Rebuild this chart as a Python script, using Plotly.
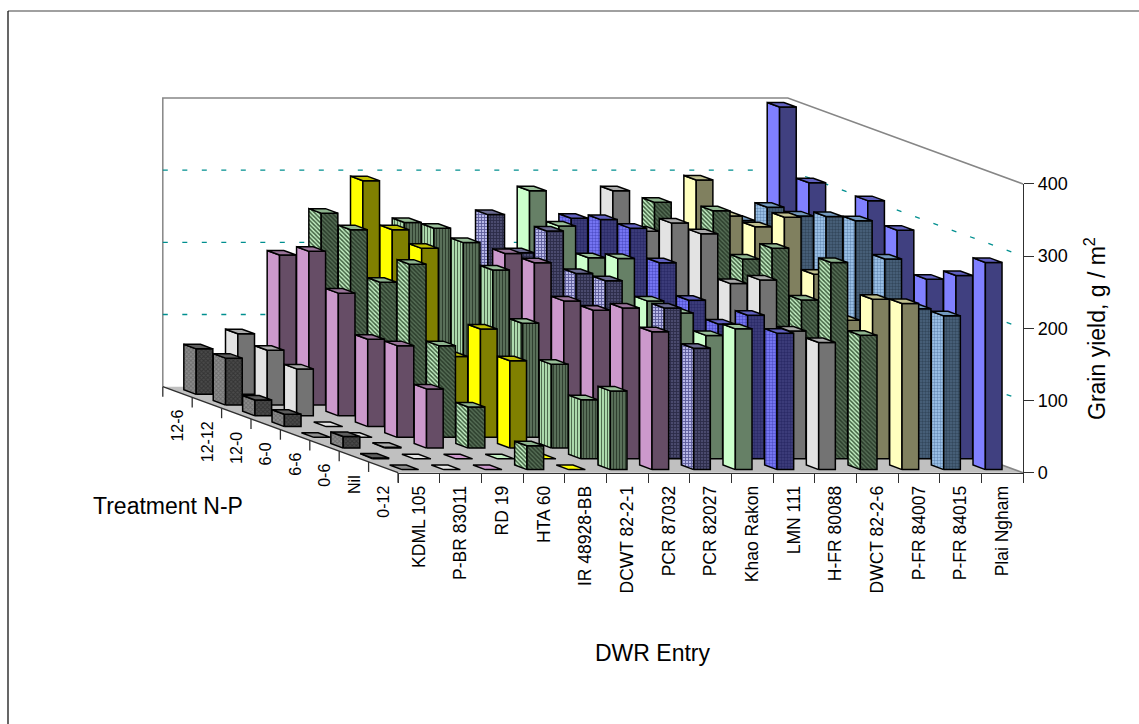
import plotly.graph_objects as go

# ---- data -----------------------------------------------------------------
entries = ["KDML 105", "P-BR 83011", "RD 19", "HTA 60", "IR 48928-BB", "DCWT 82-2-1",
           "PCR 87032", "PCR 82027", "Khao Rakon", "LMN 111", "H-FR 80088",
           "DWCT 82-2-6", "P-FR 84007", "P-FR 84015", "Plai Ngham"]
# front row first
treatments = ["0-12", "Nil", "0-6", "6-6", "6-0", "12-0", "12-12", "12-6"]

kdml_105    = [0, 1, 16, 0, 17, 22, 65, 63]
p_br_83011  = [0, 0, 1, 0, 0, 65, 76, 84]
rd_19       = [0, 0, 82, 127, 121, 170, 213, 193]
hta_60      = [33, 0, 57, 127, 225, 185, 243, 251]
ir_48928_bb = [0, 0, 121, 150, 97, 232, 243, 296]
dcwt_82_2_1 = [109, 82, 116, 158, 217, 240, 245, 238]
pcr_87032   = [191, 209, 191, 189, 227, 225, 150, 120]
pcr_82027   = [168, 209, 140, 217, 212, 256, 211, 249]
khao_rakon  = [195, 171, 187, 189, 233, 219, 248, 282]
lmn_111     = [189, 199, 172, 190, 227, 260, 257, 244]
h_fr_80088  = [176, 177, 233, 213, 267, 267, 241, 282]
dwct_82_2_6 = [186, 272, 205, 262, 232, 284, 170, 266]
p_fr_84007  = [230, 221, 177, 226, 290, 262, 262, 297]
p_fr_84015  = [213, 208, 262, 300, 291, 277, 274, 241]
plai_ngham  = [287, 254, 234, 287, 313, 250, 308, 398]

yields = [kdml_105, p_br_83011, rd_19, hta_60, ir_48928_bb, dcwt_82_2_1, pcr_87032,
          pcr_82027, khao_rakon, lmn_111, h_fr_80088, dwct_82_2_6, p_fr_84007,
          p_fr_84015, plai_ngham]

y_ticks = [0, 100, 200, 300, 400]

# ---- styles: left face, front face, top face, pattern, left ink, front ink
styles = [
    ("#8c8c8c", "#4a4a4a", "#5e5e5e", "x", "#6e6e6e", "#333333"),
    ("#e3e3e3", "#737373", "#aaaaaa", "", "", ""),
    ("#cc99cc", "#664d66", "#997399", "", "", ""),
    ("#c4f0c4", "#566e56", "#8fb58f", "\\", "#3f5f3f", "#2b3d2b"),
    ("#ffff00", "#808000", "#bfbf00", "", "", ""),
    ("#ccffcc", "#667f66", "#99bf99", "|", "#4f6b4f", "#2f3f2f"),
    ("#cc99cc", "#664d66", "#997399", "", "", ""),
    ("#b8b8e8", "#4a4a6e", "#6a6a90", "+", "#5c5c99", "#2c2c48"),
    ("#ccffcc", "#668066", "#99bf99", "", "", ""),
    ("#8080ff", "#404080", "#6060bf", ".", "#5050c8", "#2a2a66"),
    ("#e3e3e3", "#737373", "#aaaaaa", "", "", ""),
    ("#c4f0c4", "#566e56", "#8fb58f", "\\", "#3f5f3f", "#2b3d2b"),
    ("#ffffbf", "#80805f", "#bfbf8f", "", "", ""),
    ("#a6cdf2", "#4c6680", "#7399bf", ".", "#6a8fb8", "#33475c"),
    ("#8080ff", "#404080", "#6060bf", "", "", ""),
]

# ---- oblique projection of the 3-D box ------------------------------------
W, H = 1139, 724
X0, Y0 = 398.0, 472.7     # front-left floor corner, pixels
PX_X = 41.67              # pixels per entry cell
PX_Y = 0.7218             # pixels per g/m2
SHEAR_X = 29.4 / PX_X     # one treatment row, in entry units
SHEAR_Y = 10.75 / PX_Y    # one treatment row, in g/m2
N_ROWS = len(treatments)
N_COLS = len(entries)
DEPTH_FRAC = (0.29, 0.71)
WIDTH_FRAC = (0.30, 0.70)


def pt(col, row, v):
    return col - row * SHEAR_X, v + row * SHEAR_Y


def poly(points):
    xs = [p[0] for p in points] + [points[0][0]]
    ys = [p[1] for p in points] + [points[0][1]]
    return xs, ys


fig = go.Figure()

# floor
fx, fy = poly([pt(0, 0, 0), pt(N_COLS, 0, 0), pt(N_COLS, N_ROWS, 0), pt(0, N_ROWS, 0)])
fig.add_trace(go.Scatter(x=fx, y=fy, mode="lines", fill="toself", fillcolor="#c0c0c0",
                         line=dict(color="#c0c0c0", width=0), hoverinfo="skip"))

# walls
wx, wy = zip(pt(0, N_ROWS, 0), pt(0, N_ROWS, 400), pt(N_COLS, N_ROWS, 400), pt(N_COLS, 0, 400))
fig.add_trace(go.Scatter(x=list(wx), y=list(wy), mode="lines",
                         line=dict(color="#868686", width=1.5), hoverinfo="skip"))
ex, ey = zip(pt(N_COLS, N_ROWS, 0), pt(N_COLS, 0, 0))
fig.add_trace(go.Scatter(x=list(ex), y=list(ey), mode="lines",
                         line=dict(color="#868686", width=1.5), hoverinfo="skip"))

# gridlines on back and right walls
for level in y_ticks[1:-1]:
    gx, gy = zip(pt(0, N_ROWS, level), pt(N_COLS, N_ROWS, level), pt(N_COLS, 0, level))
    fig.add_trace(go.Scatter(x=list(gx), y=list(gy), mode="lines",
                             line=dict(color="#008f8f", width=1.3, dash="5px,14.5px"),
                             hoverinfo="skip"))


def face(points, color, shape="", ink=""):
    xs, ys = poly(points)
    kw = dict(fillcolor=color)
    if shape:
        kw["fillpattern"] = dict(shape=shape, bgcolor=color, fgcolor=ink, size=3, solidity=0.5,
                                 fillmode="replace")
    fig.add_trace(go.Scatter(x=xs, y=ys, mode="lines", fill="toself",
                             line=dict(color="#000000", width=1.5), hoverinfo="skip", **kw))


# bars, back row first, left to right in each row
for r in range(N_ROWS - 1, -1, -1):
    for c in range(N_COLS):
        v = yields[c][r]
        left, front, top, shape, ink_l, ink_f = styles[c]
        x1, x2 = c + WIDTH_FRAC[0], c + WIDTH_FRAC[1]
        d1, d2 = r + DEPTH_FRAC[0], r + DEPTH_FRAC[1]
        if v > 0:
            face([pt(x1, d1, 0), pt(x1, d2, 0), pt(x1, d2, v), pt(x1, d1, v)], left, shape, ink_l)
            face([pt(x1, d1, 0), pt(x2, d1, 0), pt(x2, d1, v), pt(x1, d1, v)], front, shape, ink_f)
        face([pt(x1, d1, v), pt(x2, d1, v), pt(x2, d2, v), pt(x1, d2, v)],
             top if v > 0 else left)

# depth axis: line and ticks
ax_x, ax_y = [], []
for r in range(N_ROWS + 1):
    a = pt(0, r, 0)
    ax_x += [a[0], a[0], None]
    ax_y += [a[1], a[1] - 10 / PX_Y, None]
a, b = pt(0, 0, 0), pt(0, N_ROWS, 0)
ax_x += [a[0], b[0]]
ax_y += [a[1], b[1]]
fig.add_trace(go.Scatter(x=ax_x, y=ax_y, mode="lines", line=dict(color="#303030", width=1.3),
                         hoverinfo="skip"))

# holder trace for the visible front axes
fig.add_trace(go.Scatter(x=entries, y=[0] * N_COLS, xaxis="x2", yaxis="y2", mode="lines",
                         line=dict(width=0), hoverinfo="skip"))

annotations = []
for r, name in enumerate(treatments):
    a = pt(0, r + 0.5, 0)
    annotations.append(dict(x=a[0], y=a[1], xref="x", yref="y", text=name, showarrow=False,
                            textangle=-90, xanchor="center", yanchor="top", yshift=-16,
                            font=dict(size=16)))
annotations += [
    dict(x=168 / W, y=1 - 506 / H, xref="paper", yref="paper", text="Treatment N-P",
         showarrow=False, xanchor="center", yanchor="middle", font=dict(size=23)),
    dict(x=653 / W, y=1 - 653 / H, xref="paper", yref="paper", text="DWR Entry",
         showarrow=False, xanchor="center", yanchor="middle", font=dict(size=23)),
    dict(x=1095 / W, y=1 - 329 / H, xref="paper", yref="paper", text="Grain yield, g / m<sup>2</sup>",
         showarrow=False, xanchor="center", yanchor="middle", textangle=-90, font=dict(size=23)),
]

fig.update_layout(
    width=W, height=H, autosize=False, showlegend=False,
    margin=dict(l=0, r=0, t=0, b=0, pad=0, autoexpand=False),
    paper_bgcolor="#ffffff", plot_bgcolor="rgba(0,0,0,0)",
    font=dict(family="Liberation Sans, Arial, sans-serif", color="#000000"),
    xaxis=dict(visible=False, domain=[0, 1], range=[-X0 / PX_X, (W - X0) / PX_X]),
    yaxis=dict(visible=False, domain=[0, 1], range=[-(H - Y0) / PX_Y, Y0 / PX_Y]),
    xaxis2=dict(domain=[X0 / W, (X0 + N_COLS * PX_X) / W], anchor="y2", type="category",
                categoryorder="array", categoryarray=entries, tickson="boundaries",
                ticks="outside", ticklen=9, tickwidth=1.3, tickcolor="#303030",
                showline=True, linecolor="#303030", linewidth=1.3, showgrid=False,
                tickangle=-90, tickfont=dict(size=17.5), range=[-0.5, N_COLS - 0.5],
                ticklabelstandoff=5, zeroline=False, automargin=False),
    yaxis2=dict(domain=[(H - Y0) / H, (H - Y0 + 400 * PX_Y) / H], anchor="x2", side="right",
                range=[0, 400], tickvals=y_ticks, ticks="outside", ticklen=10, tickwidth=1.3,
                tickcolor="#303030", showline=True, linecolor="#303030", linewidth=1.3,
                showgrid=False, zeroline=False, tickfont=dict(size=18), automargin=False),
    annotations=annotations,
    shapes=[
        dict(type="line", xref="paper", yref="paper", x0=8 / W, x1=1,
             y0=1 - 11 / H, y1=1 - 11 / H, line=dict(color="#808080", width=1.5), layer="below"),
        dict(type="line", xref="paper", yref="paper", x0=8 / W, x1=8 / W,
             y0=0, y1=1 - 11 / H, line=dict(color="#000000", width=1.2), layer="below"),
    ],
)

fig.write_html("out.html", config={"displayModeBar": False},
               post_script="document.body.style.margin='0';")
